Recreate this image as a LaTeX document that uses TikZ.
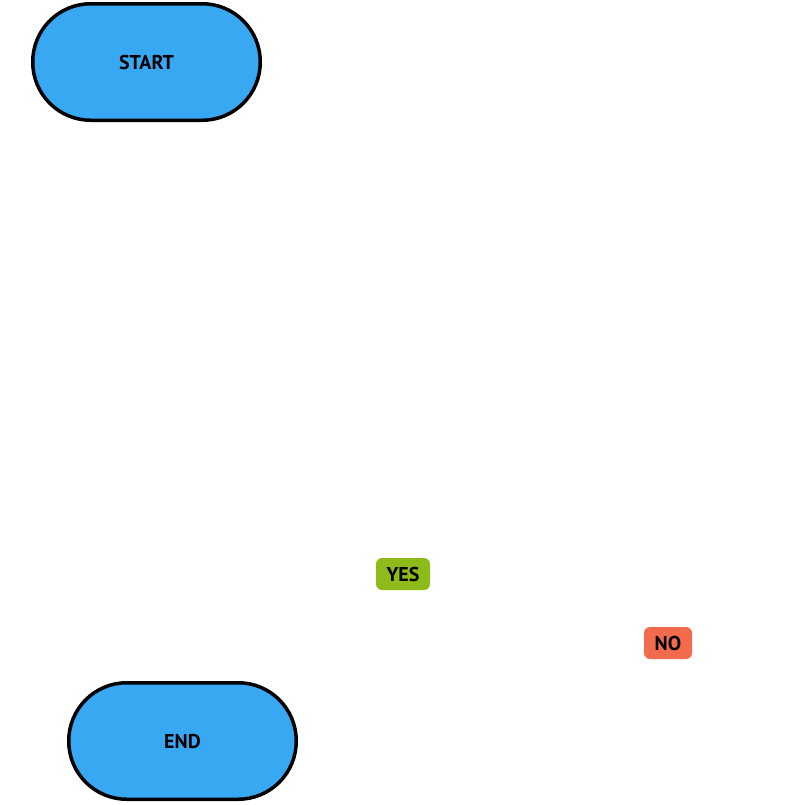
\documentclass[tikz,border=0pt]{standalone}
\usepackage{fontspec}
\newfontfamily\lblfont{PT Sans}
\definecolor{termblue}{HTML}{38A8F2}
\definecolor{yesgreen}{HTML}{8DBB1A}
\definecolor{nored}{HTML}{F26B4D}
\begin{document}
\begin{tikzpicture}[x=1pt,y=-1pt,
  terminal/.style={draw=black, line width=3.5pt, fill=termblue, rounded corners=58pt,
    minimum width=227.5pt, minimum height=116.5pt, inner sep=0pt,
    font=\lblfont\bfseries\fontsize{20}{20}\selectfont},
  tag/.style={fill=#1, rounded corners=6pt, inner sep=0pt, minimum height=32pt,
    font=\lblfont\bfseries\fontsize{20}{20}\selectfont}]
\useasboundingbox (0,0) rectangle (812,804);
\node[terminal] (start) at (146.5,62) {START};
\node[terminal] (end) at (182.5,741) {END};
\node[tag=yesgreen, minimum width=54pt] (yes) at (403,574) {YES};
\node[tag=nored, minimum width=48pt] (no) at (668,643) {NO};
\end{tikzpicture}
\end{document}
